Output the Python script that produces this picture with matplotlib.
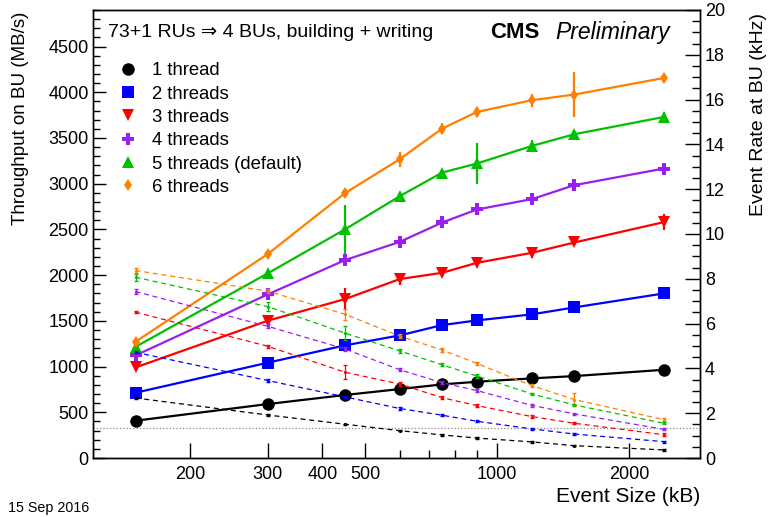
import numpy as np
import matplotlib.pyplot as plt
from matplotlib.lines import Line2D
from matplotlib.ticker import FixedLocator, NullFormatter, MultipleLocator

plt.rcParams['font.family'] = ['Liberation Sans', 'DejaVu Sans']

SIZES = [150, 300, 450, 600, 750, 900, 1200, 1500, 2400]
LABELS = ["1 thread", "2 threads", "3 threads", "4 threads", "5 threads (default)", "6 threads"]
COLORS = ["black", "#0000ff", "#ff0000", "#9a1ef0", "#00c000", "#ff7f00"]
MARKERS = ["o", "s", "v", "P", "^", "d"]
MSIZES = [9, 8.5, 8.5, 8.5, 8.5, 6.5]

# throughput on BU (MB/s), solid lines, left axis
thr_1 = [408, 590, 689, 754, 805, 834, 871, 896, 965]
thr_2 = [714, 1042, 1232, 1341, 1454, 1505, 1571, 1647, 1800]
thr_3 = [991, 1501, 1738, 1957, 2026, 2135, 2244, 2357, 2580]
thr_4 = [1122, 1789, 2164, 2364, 2576, 2718, 2831, 2984, 3166]
thr_5 = [1216, 2019, 2500, 2864, 3122, 3221, 3413, 3541, 3730]
thr_6 = [1271, 2230, 2896, 3268, 3603, 3785, 3913, 3975, 4156]

thr_err_1 = [15, 15, 15, 15, 15, 15, 15, 15, 15]
thr_err_2 = [20, 20, 20, 20, 20, 20, 30, 20, 20]
thr_err_3 = [30, 30, 120, 60, 30, 40, 60, 40, 90]
thr_err_4 = [30, 30, 40, 40, 50, 40, 60, 40, 40]
thr_err_5 = [40, 40, 270, 50, 40, 224, 60, 50, 50]
thr_err_6 = [40, 30, 50, 80, 60, 50, 70, 246, 40]

# event rate at BU (kHz), dashed lines, right axis
rate_1 = [2.68, 1.92, 1.51, 1.22, 1.03, 0.89, 0.72, 0.55, 0.36]
rate_2 = [4.72, 3.46, 2.73, 2.21, 1.91, 1.64, 1.30, 1.07, 0.73]
rate_3 = [6.51, 4.99, 3.83, 3.30, 2.69, 2.34, 1.85, 1.55, 1.04]
rate_4 = [7.43, 5.88, 4.87, 3.94, 3.36, 3.01, 2.35, 1.97, 1.28]
rate_5 = [8.07, 6.76, 5.58, 4.78, 4.16, 3.66, 2.86, 2.37, 1.55]
rate_6 = [8.37, 7.45, 6.42, 5.44, 4.82, 4.22, 3.23, 2.61, 1.71]

rate_err_1 = [0.03] * 9
rate_err_2 = [0.05] * 9
rate_err_3 = [0.05, 0.07, 0.30, 0.08, 0.06, 0.05, 0.06, 0.05, 0.06]
rate_err_4 = [0.1, 0.08, 0.1, 0.06, 0.06, 0.06, 0.06, 0.05, 0.05]
rate_err_5 = [0.15, 0.2, 0.3, 0.08, 0.06, 0.1, 0.06, 0.06, 0.05]
rate_err_6 = [0.1, 0.08, 0.25, 0.08, 0.07, 0.08, 0.08, 0.3, 0.06]

REF_RATE = 1.33

thr = [thr_1, thr_2, thr_3, thr_4, thr_5, thr_6]
thr_err = [thr_err_1, thr_err_2, thr_err_3, thr_err_4, thr_err_5, thr_err_6]
rate = [rate_1, rate_2, rate_3, rate_4, rate_5, rate_6]
rate_err = [rate_err_1, rate_err_2, rate_err_3, rate_err_4, rate_err_5, rate_err_6]

fig = plt.figure(figsize=(7.72, 5.17), dpi=100)
ax = fig.add_axes([0.1205, 0.1141, 0.7862, 0.8666])
ax2 = ax.twinx()

for i in range(6):
    ax2.errorbar(SIZES, rate[i], yerr=rate_err[i], color=COLORS[i], ls=(0, (4, 3)),
                 lw=0.9, marker='.', ms=2.5, capsize=1.5, elinewidth=0.9)
    ax.errorbar(SIZES, thr[i], yerr=thr_err[i], color=COLORS[i], lw=1.6,
                marker=MARKERS[i], ms=MSIZES[i], mew=0, capsize=1.5, elinewidth=1.6,
                zorder=3)

ax2.axhline(REF_RATE, color='#888888', ls=':', lw=0.9)

ax.set_xscale('log')
ax.set_xlim(120, 2900)
ax.set_ylim(0, 4900)
ax2.set_ylim(0, 20)

ax.xaxis.set_major_locator(FixedLocator([200, 300, 400, 500, 1000, 2000]))
ax.xaxis.set_minor_locator(FixedLocator([600, 700, 800, 900]))
ax.xaxis.set_major_formatter(plt.FixedFormatter(["200", "300", "400", "500", "1000", "2000"]))
ax.xaxis.set_minor_formatter(NullFormatter())
ax.yaxis.set_major_locator(MultipleLocator(500))
ax.yaxis.set_minor_locator(MultipleLocator(100))
ax2.yaxis.set_major_locator(MultipleLocator(2))
ax2.yaxis.set_minor_locator(MultipleLocator(0.5))

ax.tick_params(axis='both', which='both', direction='in', top=False, right=False, labelsize=13)
ax.tick_params(axis='y', which='major', length=9, width=1)
ax.tick_params(axis='y', which='minor', length=5, width=1)
ax.tick_params(axis='x', which='major', length=11, width=1, pad=6)
ax.tick_params(axis='x', which='minor', length=6, width=1)
ax2.tick_params(axis='y', which='both', direction='in', labelsize=13)
ax2.tick_params(axis='y', which='major', length=11, width=1)
ax2.tick_params(axis='y', which='minor', length=6, width=1)
ax.tick_params(axis='y', pad=3)

for a in (ax, ax2):
    for s in a.spines.values():
        s.set_linewidth(1.0)

fig.text(0.027, 0.978, "Throughput on BU (MB/s)", rotation=90, ha='center', va='top', fontsize=13.5)
fig.text(0.982, 0.975, "Event Rate at BU (kHz)", rotation=90, ha='center', va='top', fontsize=14)
fig.text(0.9067, 0.022, "Event Size (kB)", ha='right', va='bottom', fontsize=15)
fig.text(0.01, 0.003, "15 Sep 2016", ha='left', va='bottom', fontsize=10.3)

ax.text(0.024, 0.95, "73+1 RUs \u21d2 4 BUs, building + writing", transform=ax.transAxes,
        ha='left', va='center', fontsize=14)
ax.text(0.654, 0.95, "CMS", transform=ax.transAxes, ha='left', va='center',
        fontsize=16, fontweight='bold')
ax.text(0.761, 0.95, "Preliminary", transform=ax.transAxes, ha='left', va='center',
        fontsize=16.5, style='italic')

handles = [Line2D([], [], color=COLORS[i], marker=MARKERS[i], ls='none', ms=MSIZES[i], mew=0)
           for i in range(6)]
ax.legend(handles, LABELS, loc='upper left', bbox_to_anchor=(0.044, 0.883), frameon=False,
          fontsize=13.3, handlelength=0.9, handletextpad=0.85, labelspacing=0.34,
          borderpad=0, borderaxespad=0)

fig.savefig("out.png", dpi=100)
